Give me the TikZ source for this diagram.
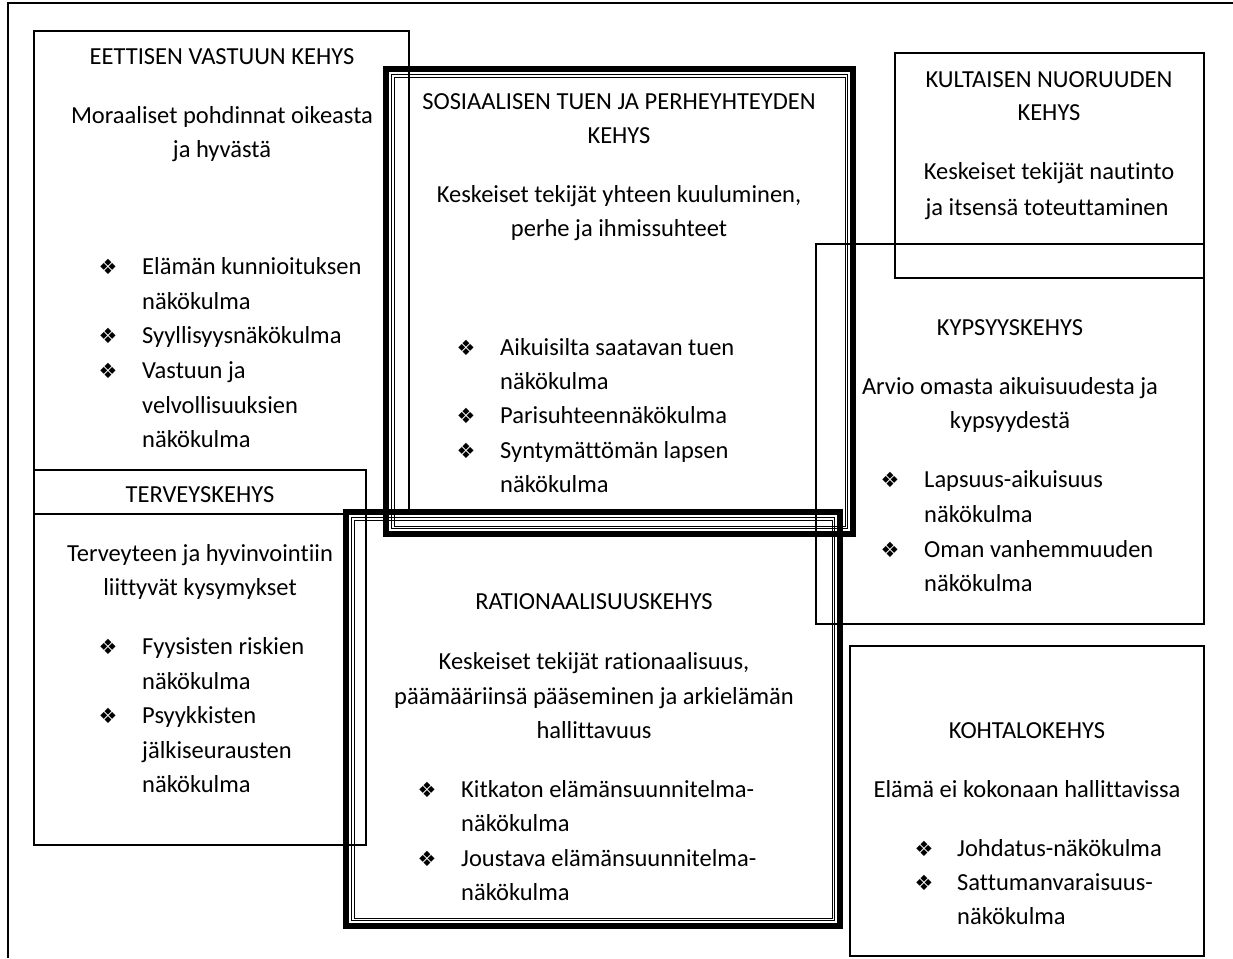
\documentclass[tikz,border=0pt]{standalone}
\usepackage{fontspec}
\setmainfont{Carlito}[Ligatures=NoCommon]
\newfontfamily\symfont{DejaVu Sans}
\newcommand\bulmark{{\symfont\fontsize{21}{21}\selectfont ❖}}
\newcommand\dblbox[4]{%
  \draw[line width=6pt] (#1+3,#2+3) rectangle (#3-3,#4-3);
  \draw[line width=1.3pt] (#1+8.5,#2+8.5) rectangle (#3-8.5,#4-8.5);
  \draw[line width=1pt] (#1+11,#2+11) rectangle (#3-11,#4-11);}
\tikzset{
  frame/.style={draw=black, line width=1.3pt},
  ctext/.style={inner sep=0pt, anchor=mid, text=black, yshift=-5pt},
  ltext/.style={inner sep=0pt, anchor=mid west, text=black, yshift=-5pt},
  bmark/.style={inner sep=0pt, anchor=center, text=black},
}
\begin{document}
\begin{tikzpicture}[x=1pt,y=-1pt, font=\fontsize{24.5}{34}\selectfont]
\useasboundingbox (0,0) rectangle (1233,958);
\fill[white] (0,0) rectangle (1233,958);
% outer frame (left and top)
\draw[frame] (8,958) -- (8,3) -- (1233,3);
% boxes
\draw[frame] (34,31) rectangle (409,511);
\draw[frame, fill=white] (34,470) rectangle (366,845);
\draw[frame] (34,514) -- (366,514);
\draw[frame] (895,53) rectangle (1204,278);
\draw[frame] (816,244) rectangle (1204,624);
\draw[frame] (850,646) rectangle (1204,956);
\dblbox{383}{66}{856}{537}
\dblbox{343}{509}{843}{929}

% Eettisen
\node[ctext] (e1) at (222,57) {EETTISEN VASTUUN KEHYS};
\node[ctext] (e2) at (222,116) {Moraaliset pohdinnat oikeasta};
\node[ctext] (e3) at (222,150) {ja hyvästä};
\node[bmark] (eb1) at (108,267) {\bulmark};
\node[ltext] (e4) at (142,267) {Elämän kunnioituksen};
\node[ltext] (e5) at (142,302) {näkökulma};
\node[bmark] (eb2) at (108,336) {\bulmark};
\node[ltext] (e6) at (142,336) {Syyllisyysnäkökulma};
\node[bmark] (eb3) at (108,371) {\bulmark};
\node[ltext] (e7) at (142,371) {Vastuun ja};
\node[ltext] (e8) at (142,406) {velvollisuuksien};
\node[ltext] (e9) at (142,440) {näkökulma};

% Sosiaalisen
\node[ctext] (s1) at (619,102) {SOSIAALISEN TUEN JA PERHEYHTEYDEN};
\node[ctext] (s2) at (619,136) {KEHYS};
\node[ctext] (s3) at (619,195) {Keskeiset tekijät yhteen kuuluminen,};
\node[ctext] (s4) at (619,229) {perhe ja ihmissuhteet};
\node[bmark] (sb1) at (466,348) {\bulmark};
\node[ltext] (s5) at (500,348) {Aikuisilta saatavan tuen};
\node[ltext] (s6) at (500,382) {näkökulma};
\node[bmark] (sb2) at (466,416) {\bulmark};
\node[ltext] (s7) at (500,416) {Parisuhteennäkökulma};
\node[bmark] (sb3) at (466,451) {\bulmark};
\node[ltext] (s8) at (500,451) {Syntymättömän lapsen};
\node[ltext] (s9) at (500,485) {näkökulma};

% Kultaisen
\node[ctext] (k1) at (1049,80) {KULTAISEN NUORUUDEN};
\node[ctext] (k2) at (1049,113) {KEHYS};
\node[ctext] (k3) at (1049,172) {Keskeiset tekijät nautinto};
\node[ctext] (k4) at (1047,208) {ja itsensä toteuttaminen};

% Kypsyys
\node[ctext] (y1) at (1010,328) {KYPSYYSKEHYS};
\node[ctext] (y2) at (1010,387) {Arvio omasta aikuisuudesta ja};
\node[ctext] (y3) at (1010,421) {kypsyydestä};
\node[bmark] (yb1) at (890,480) {\bulmark};
\node[ltext] (y4) at (924,480) {Lapsuus-aikuisuus};
\node[ltext] (y5) at (924,515) {näkökulma};
\node[bmark] (yb2) at (890,550) {\bulmark};
\node[ltext] (y6) at (924,550) {Oman vanhemmuuden};
\node[ltext] (y7) at (924,584) {näkökulma};

% Terveys
\node[ctext] (t1) at (200,495) {TERVEYSKEHYS};
\node[ctext] (t2) at (200,554) {Terveyteen ja hyvinvointiin};
\node[ctext] (t3) at (200,588) {liittyvät kysymykset};
\node[bmark] (tb1) at (108,647) {\bulmark};
\node[ltext] (t4) at (142,647) {Fyysisten riskien};
\node[ltext] (t5) at (142,682) {näkökulma};
\node[bmark] (tb2) at (108,716) {\bulmark};
\node[ltext] (t6) at (142,716) {Psyykkisten};
\node[ltext] (t7) at (142,751) {jälkiseurausten};
\node[ltext] (t8) at (142,785) {näkökulma};

% Rationaalisuus
\node[ctext] (r1) at (594,602) {RATIONAALISUUSKEHYS};
\node[ctext] (r2) at (594,662) {Keskeiset tekijät rationaalisuus,};
\node[ctext] (r3) at (594,697) {päämääriinsä pääseminen ja arkielämän};
\node[ctext] (r4) at (594,731) {hallittavuus};
\node[bmark] (rb1) at (427,790) {\bulmark};
\node[ltext] (r5) at (461,790) {Kitkaton elämänsuunnitelma-};
\node[ltext] (r6) at (461,824) {näkökulma};
\node[bmark] (rb2) at (427,859) {\bulmark};
\node[ltext] (r7) at (461,859) {Joustava elämänsuunnitelma-};
\node[ltext] (r8) at (461,893) {näkökulma};

% Kohtalo
\node[ctext] (h1) at (1027,731) {KOHTALOKEHYS};
\node[ctext] (h2) at (1027,790) {Elämä ei kokonaan hallittavissa};
\node[bmark] (hb1) at (924,849) {\bulmark};
\node[ltext] (h3) at (957,849) {Johdatus-näkökulma};
\node[bmark] (hb2) at (924,883) {\bulmark};
\node[ltext] (h4) at (957,883) {Sattumanvaraisuus-};
\node[ltext] (h5) at (957,917) {näkökulma};
\end{tikzpicture}
\end{document}
